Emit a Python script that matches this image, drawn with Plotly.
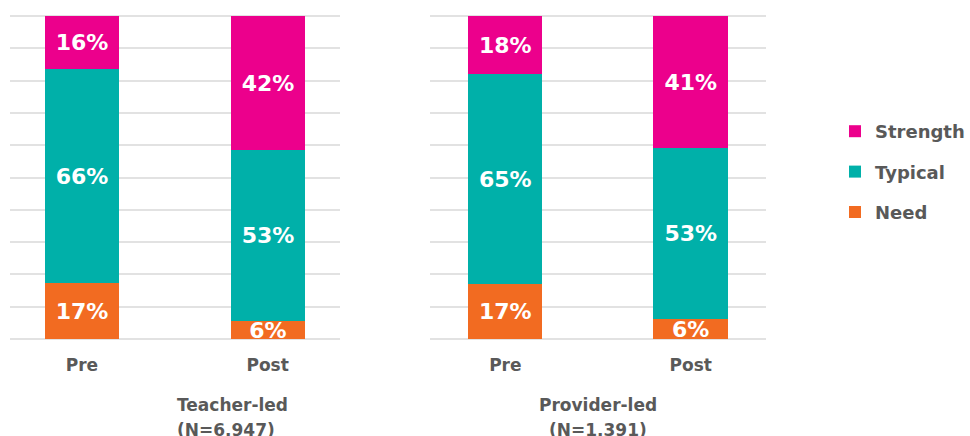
import plotly.graph_objects as go

stages = ["Pre", "Post"]
panels = ["Teacher-led", "Provider-led"]
panel_n = ["(N=6,947)", "(N=1,391)"]

teacher_need = [17.2, 5.6]
teacher_typical = [66.4, 52.9]
teacher_strength = [16.4, 41.5]

provider_need = [17, 6]
provider_typical = [65, 53]
provider_strength = [18, 41]

colors = {"Need": "#F26B21", "Typical": "#00B0A9", "Strength": "#EC008C"}
ranks = {"Strength": 1, "Typical": 2, "Need": 3}
font_family = "DejaVu Sans"
grey = "#595959"

fig = go.Figure()

series = [
    ("x", "y", {"Need": teacher_need, "Typical": teacher_typical, "Strength": teacher_strength}, True),
    ("x2", "y2", {"Need": provider_need, "Typical": provider_typical, "Strength": provider_strength}, False),
]

for xa, ya, vals, show in series:
    for name in ["Need", "Typical", "Strength"]:
        fig.add_trace(go.Bar(
            x=stages, y=vals[name], name=name,
            xaxis=xa, yaxis=ya,
            marker=dict(color=colors[name], line=dict(width=0)),
            width=0.4,
            texttemplate="%{y:.0f}%", textposition="inside",
            insidetextanchor="middle", constraintext="none", textangle=0,
            textfont=dict(family=font_family, size=22, color="white", weight="bold"),
            legendgroup=name, legendrank=ranks[name], showlegend=show,
            hoverinfo="skip",
        ))

axis_common = dict(
    type="category", showgrid=False, showline=False, zeroline=False, ticks="",
    tickfont=dict(family=font_family, size=17, color=grey, weight="bold"),
    ticklabelstandoff=11, fixedrange=True,
)
# padded range so the 0% and 100% gridlines are drawn too
yaxis_common = dict(
    range=[-1, 101], tick0=0, dtick=10, showgrid=True, gridcolor="#E2E2E2", gridwidth=1.5,
    showticklabels=False, zeroline=False, showline=False, ticks="", fixedrange=True,
)

fig.update_layout(
    width=970, height=436,
    margin=dict(l=0, r=0, t=13, b=94),
    paper_bgcolor="white", plot_bgcolor="white",
    barmode="stack", bargap=0,
    xaxis=dict(domain=[10 / 970, 341 / 970], range=[-0.3875, 1.3875], **axis_common),
    xaxis2=dict(domain=[432 / 970, 769 / 970], range=[-0.405, 1.405], **axis_common),
    yaxis=dict(anchor="x", **yaxis_common),
    yaxis2=dict(anchor="x2", **yaxis_common),
    legend=dict(
        x=0.8644, y=0.5167, xanchor="left", yanchor="middle",
        traceorder="grouped", tracegroupgap=14,
        font=dict(family=font_family, size=18, color=grey, weight="bold"),
        bgcolor="rgba(0,0,0,0)",
    ),
    showlegend=True,
)

centers = [(10 + 341) / 2 / 970, (432 + 769) / 2 / 970]
for cx, title, n in zip(centers, panels, panel_n):
    fig.add_annotation(x=cx, y=-0.1915, xref="paper", yref="paper", text=title,
                       showarrow=False, yanchor="middle",
                       font=dict(family=font_family, size=17, color=grey, weight="bold"))
    fig.add_annotation(x=cx, y=-0.2675, xref="paper", yref="paper", text=n,
                       showarrow=False, yanchor="middle",
                       font=dict(family=font_family, size=17, color=grey, weight="bold"))

# drop the default 8px body margin so the figure fills the window
fig.write_html("out.html", config={"displayModeBar": False},
               post_script="document.body.style.margin='0';")
